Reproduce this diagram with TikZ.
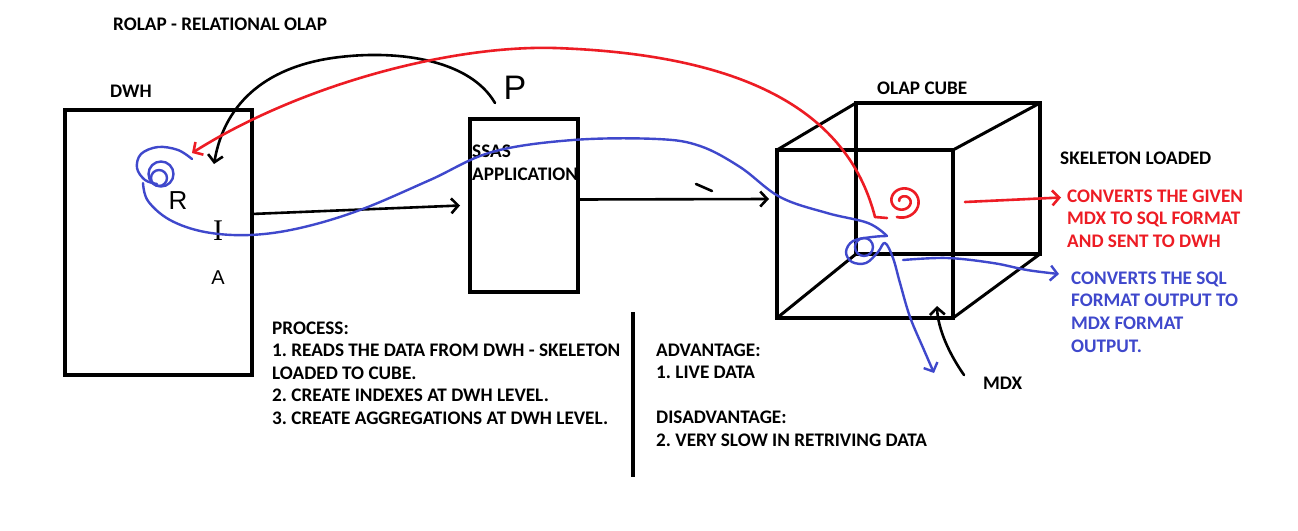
\documentclass[tikz,border=0pt]{standalone}
\usepackage{fontspec}
\setmainfont{Carlito}
\newfontfamily\handfont{Liberation Sans}
\newfontfamily\handserif{Liberation Serif}
\usetikzlibrary{arrows.meta,calc}
\definecolor{pred}{RGB}{237,28,36}
\definecolor{pblue}{RGB}{63,72,204}
\frenchspacing
\begin{document}
\begin{tikzpicture}[x=1pt,y=-1pt,
  box/.style={draw, line width=4pt, inner sep=0pt, outer sep=0pt},
  pen/.style={line width=2.6pt, line cap=round, line join=round},
  tip/.style={-{Straight Barb[length=7pt,width=15pt]}},
  lbl/.style={font=\bfseries\fontsize{19.2}{22.6}\selectfont, inner sep=0pt, align=left, anchor=west},
  hand/.style={font=\handfont\fontsize{26}{26}\selectfont, inner sep=0pt}]
\useasboundingbox[fill=white] (0,0) rectangle (1298,530);

% boxes
\node[box, minimum width=187pt, minimum height=265pt] (dwh) at (158,242) {};
\node[box, minimum width=108pt, minimum height=173pt] (ssas) at (524,205.5) {};
\node[box, minimum width=184pt, minimum height=151pt] (back) at (948,178.5) {};
\node[box, minimum width=176pt, minimum height=168pt] (front) at (865,234) {};
\draw[line width=3pt] (front.north west) -- (back.north west);
\draw[line width=3pt] (front.north east) -- (back.north east);
\draw[line width=3pt] (front.south east) -- (back.south east);
\draw[line width=3pt] (front.south west) -- (back.south west);

% texts
\node[lbl] (title) at (113,24) {ROLAP - RELATIONAL OLAP};
\node[lbl] (dwhl) at (110,91) {DWH};
\node[lbl] (ssasl) at (472,163) {SSAS\\APPLICATION};
\node[lbl] (cubel) at (877,88) {OLAP CUBE};
\node[lbl] (skel) at (1060,158) {SKELETON LOADED};
\node[lbl, text=pred] (redt) at (1067,218.5) {CONVERTS THE GIVEN\\MDX TO SQL FORMAT\\AND SENT TO DWH};
\node[lbl, text=pblue] (bluet) at (1071,312) {CONVERTS THE SQL\\FORMAT OUTPUT TO\\MDX FORMAT\\OUTPUT.};
\node[lbl] (proc) at (272,373) {PROCESS:\\1. READS THE DATA FROM DWH - SKELETON\\LOADED TO CUBE.\\2. CREATE INDEXES AT DWH LEVEL.\\3. CREATE AGGREGATIONS AT DWH LEVEL.};
\node[lbl] (adv) at (656,395) {ADVANTAGE:\\1. LIVE DATA\\ \mbox{}\\DISADVANTAGE:\\2. VERY SLOW IN RETRIVING DATA};
\node[lbl] (mdx) at (983,383) {MDX};

% hand letters
\node[hand, font=\handfont\fontsize{34}{34}\selectfont] (hP) at (515,88) {P};
\node[hand] (hR) at (178,201) {R};
\node[hand, font=\handserif\fontsize{30}{30}\selectfont] (hI) at (218,231) {I};
\node[hand, font=\handfont\fontsize{20}{20}\selectfont] (hA) at (218,278) {A};

% separator
\coordinate (sepT) at (633,312);
\coordinate (sepB) at (633,477);
\draw[line width=4pt] (sepT) -- (sepB);

% black connectors
\draw[pen, tip] ($(dwh.east)+(0,-28)$) -- ($(ssas.west)+(-10,0)$);
\draw[pen, tip] ($(ssas.east)+(0,-6)$) -- ($(front.west)+(-8,-35)$);
\coordinate (tk1) at (696,184);
\coordinate (tk2) at (712,191);
\draw[pen] (tk1) -- (tk2);
\coordinate (bkS) at (495,103);
\coordinate (bkE) at (214,164);
\draw[pen, tip] (bkS) .. controls (470,60) and (400,50) .. (340,57) .. controls (270,65) and (225,100) .. (bkE);
\coordinate (mdxS) at (964,375);
\coordinate (mdxE) at (937,306);
\draw[pen, tip] (mdxS) .. controls (950,355) and (938,330) .. (mdxE);

% red
\coordinate (rS) at (875,217);
\coordinate (rE) at (192,153);
\draw[pen, pred] plot[smooth, domain=0:650, samples=60, variable=\t] ({903+(18-\t/45)*cos(110-\t)}, {201+(17-\t/45)*sin(110-\t)});
\draw[pen, pred] (rS) -- (887,218);
\draw[pen, pred, tip] (rS) .. controls (850,120) and (760,55) .. (555,48) .. controls (450,45) and (300,85) .. (rE);
\coordinate (r2S) at (965,202);
\draw[pen, pred, tip] (r2S) -- ($(redt.west)+(-6,-21)$);

% blue
\coordinate (bS) at (192,159);
\coordinate (bL) at (887,236);
\coordinate (bE) at (934,373);
\draw[pen, pblue, line width=2.4pt] plot[smooth, tension=0.6] coordinates {(bS) (178,150) (158,147) (141,154) (137,168) (145,180) (157,184)};
\draw[pen, pblue, line width=2.4pt] (161,174) circle[radius=12.5];
\draw[pen, pblue, line width=2.4pt] (159,178) circle[radius=8];
\draw[pen, pblue, line width=2.4pt] plot[smooth, tension=0.6] coordinates {(143,183) (148,201) (170,220) (205,232) (250,235) (300,228) (360,210) (430,180) (492,152) (573,140) (657,139) (700,146) (740,167) (780,197) (827,213) (868,223) (bL)};
\draw[pen, pblue, line width=2.4pt, tip] plot[smooth, tension=0.6] coordinates {(bL) (872,237) (853,241) (846,252) (852,262) (866,263) (878,252) (885,243) (893,258) (900,283) (910,317) (924,350) (bE)};
\draw[pen, pblue, line width=2.4pt] (864,247) circle[radius=9];
\coordinate (b2S) at (903,260);
\draw[pen, pblue, line width=2.4pt, tip] plot[smooth, tension=0.6] coordinates {(b2S) (947,258) (993,263) (1027,270) ($(bluet.west)+(-12,-38)$)};
\end{tikzpicture}
\end{document}
